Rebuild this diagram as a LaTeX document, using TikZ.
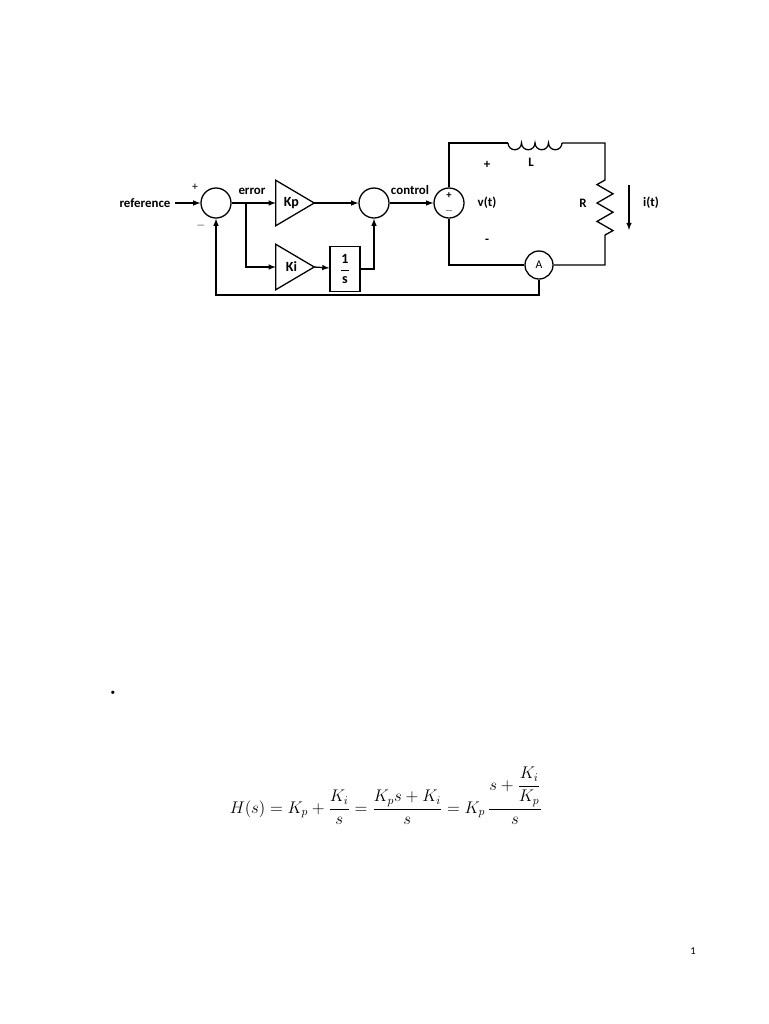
\documentclass[tikz,border=0pt]{standalone}
\usepackage{amsmath}
\usepackage{fontspec}
\setsansfont{Carlito}
\usetikzlibrary{arrows, positioning, shapes}
\tikzset{
  lbl/.style={% block diagram labels
    font=\sffamily\bfseries\fontsize{11}{12}\selectfont,
    inner sep=1pt},
  sum/.style={% summing junction
    circle, draw, line width=1.1pt, minimum size=30*0.3mm, inner sep=0pt},
  gain/.style={% gain block, triangle drawn from its anchors
    rectangle, minimum width=38*0.3mm, minimum height=45*0.3mm, inner sep=0pt,
    font=\sffamily\bfseries\fontsize{12}{13}\selectfont},
  arrow/.style={% signal flow
    line width=1.1pt, -latex},
  wire/.style={line width=1.1pt}
}
\begin{document}
\begin{tikzpicture}[x=0.3mm, y=-0.3mm]
\useasboundingbox (0,0) rectangle (768,1024);

%%% Block diagram
\node[lbl, outer sep=3pt] (ref) at (145,203) {reference};
\node[sum] (sum1) at (216,203) {};
\node[lbl, font=\sffamily\fontsize{10}{11}\selectfont] (plus1) at (195,187) {+};
\node[lbl, font=\sffamily\fontsize{10}{11}\selectfont] (minus1) at (201,226) {$-$};
\node[gain] (kp) at (295,203) {\hspace{-6pt}Kp};
\node[gain] (ki) at (295,267) {\hspace{-6pt}Ki};
\draw[wire] (kp.north west) -- (kp.east) -- (kp.south west) -- cycle;
\draw[wire] (ki.north west) -- (ki.east) -- (ki.south west) -- cycle;
\node[draw, line width=1.1pt, minimum width=30*0.3mm, minimum height=45*0.3mm, inner sep=0pt,
  font=\sffamily\bfseries\fontsize{12}{13}\selectfont] (int) at (345,269)
  {$\dfrac{\text{1}}{\text{s}}$};
\node[sum] (sum2) at (374,203) {};
\node[lbl] (err) at (252,191) {error};
\node[lbl] (ctl) at (410,190) {control};
\coordinate (branch) at (246,203);

%%% Circuit
\node[sum] (src) at (449,203) {};
\node[lbl, font=\sffamily\bfseries\fontsize{9}{10}\selectfont] at (449,196) {+};
\node[lbl, font=\sffamily\bfseries\fontsize{9}{10}\selectfont] at (449,211) {$-$};
\node[sum, minimum size=28*0.3mm, font=\sffamily\fontsize{10}{11}\selectfont] (amm) at (539,265) {A};
\coordinate (tl) at (449,143);
\coordinate (tr) at (605,143);
\coordinate (bl) at (449,265);
\coordinate (br) at (605,265);
\coordinate (indA) at (508,143);
\coordinate (indB) at (562,143);
\coordinate (resA) at (605,180);
\coordinate (resB) at (605,235);
\node[lbl] (lL) at (531,162) {L};
\node[lbl] (lR) at (583,203) {R};
\node[lbl] (vt) at (487,203) {v(t)};
\node[lbl] (vp) at (487,165) {+};
\node[lbl] (vm) at (487,241) {-};
\coordinate (iA) at (629,185);
\coordinate (iB) at (629,230);
\node[lbl] (it) at (651,203) {i(t)};
\coordinate (fb) at (216,295);

%%% Arrows
\draw[arrow] (ref) -- (sum1);
\draw[wire] (sum1) -- (branch);
\draw[arrow] (branch) -- (kp.west);
\draw[arrow] (branch) |- (ki.west);
\draw[arrow] (kp.east) -- (sum2);
\draw[arrow] (ki.east) -- (int);
\draw[arrow] (int.east) -| (sum2.south);
\draw[arrow] (sum2) -- (src);
\draw[wire] (src.north) -- (tl) -- (indA);
\draw[wire] (indA) arc[start angle=180, end angle=0, radius=6.75]
  arc[start angle=180, end angle=0, radius=6.75]
  arc[start angle=180, end angle=0, radius=6.75]
  arc[start angle=180, end angle=0, radius=6.75];
\draw[wire] (indB) -- (tr) -- (resA) -- ++(-8,4.6) -- ++(16,9.2) -- ++(-16,9.2)
  -- ++(16,9.2) -- ++(-16,9.2) -- ++(16,9.2) -- (resB) -- (br) -- (amm);
\draw[wire] (amm) -- (bl) -- (src.south);
\draw[arrow] (iA) -- (iB);
\draw[arrow] (amm.south) |- (fb) -- (sum1.south);

%%% Text below
\node (dot) at (113,693) {\textbullet};
\node[font=\fontsize{13.7}{16}\selectfont] (eq) at (386,796)
  {$H(s)=K_p+\dfrac{K_i}{s}=\dfrac{K_ps+K_i}{s}=K_p\,\dfrac{s+\dfrac{K_i}{K_p}}{s}$};
\node[font=\sffamily\fontsize{9}{10}\selectfont] (page) at (693,951) {1};
\end{tikzpicture}
\end{document}
